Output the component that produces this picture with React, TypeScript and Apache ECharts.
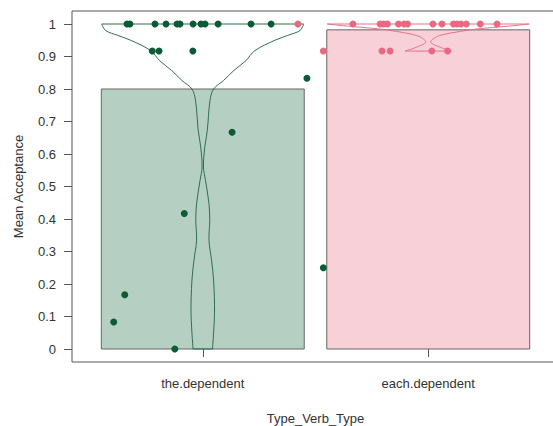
import React, { useEffect, useRef } from "react";
import * as echarts from "echarts";

const categories = ["the.dependent", "each.dependent"];
const categoryPos = [1, 2];
const barMeans = [0.8, 0.982];
const yTicks = [0, 0.1, 0.2, 0.3, 0.4, 0.5, 0.6, 0.7, 0.8, 0.9, 1];

// violin outlines: values (top to bottom) and half widths in x-axis units
const greenViolinValues = [1.0, 0.98, 0.965, 0.95, 0.918, 0.887, 0.857, 0.826, 0.8, 0.764, 0.672, 0.621, 0.56, 0.519, 0.447, 0.396, 0.335, 0.273, 0.212, 0.11, 0.0];
const greenViolinHalfWidths = [0.448, 0.431, 0.377, 0.32, 0.231, 0.191, 0.138, 0.092, 0.048, 0.032, 0.02, 0.009, 0.003, 0.012, 0.0275, 0.031, 0.0275, 0.039, 0.048, 0.052, 0.043];
const pinkViolinValues = [1.0, 0.993, 0.985, 0.977, 0.968, 0.959, 0.944, 0.928, 0.9167];
const pinkViolinHalfWidths = [0.448, 0.35, 0.22, 0.14, 0.07, 0.033, 0.011, 0.055, 0.103];

// jittered points
const greenPointsX = [0.664, 0.677, 0.788, 0.837, 0.886, 0.899, 0.957, 0.992, 1.01, 1.068, 1.214, 1.303, 0.776, 0.806, 0.956, 1.462, 1.13, 0.918, 1.535, 0.654, 0.605, 0.876];
const greenPointsY = [1, 1, 1, 1, 1, 1, 1, 1, 1, 1, 1, 1, 0.9167, 0.9167, 0.9167, 0.8333, 0.6667, 0.4167, 0.25, 0.1667, 0.0833, 0];
const pinkPointsX = [1.422, 1.666, 1.787, 1.802, 1.819, 1.868, 1.893, 1.908, 2.021, 2.061, 2.112, 2.127, 2.145, 2.169, 2.231, 2.305, 1.535, 1.795, 1.831, 2.016, 2.086];
const pinkPointsY = [1, 1, 1, 1, 1, 1, 1, 1, 1, 1, 1, 1, 1, 1, 1, 1, 0.9167, 0.9167, 0.9167, 0.9167, 0.9167];

const barFills = ["#b5cfc2", "#f8d0d8"];
const violinStrokes = ["#2f6e50", "#e27589"];
const pointColors = ["#0b5c36", "#e96a80"];

const violinValues = [greenViolinValues, pinkViolinValues];
const violinHalfWidths = [greenViolinHalfWidths, pinkViolinHalfWidths];

export default function App() {
  const ref = useRef<HTMLDivElement>(null);
  useEffect(() => {
    if (!ref.current) return;
    const chart = echarts.init(ref.current, null, { renderer: "svg" });
    const textColor = "#333";
    const font = "Liberation Sans, Arial, Helvetica, sans-serif";
    chart.setOption({
      animation: false,
      textStyle: { fontFamily: font },
      grid: {
        left: 72,
        top: 11,
        bottom: 64,
        right: -6,
        show: true,
        borderColor: "#555",
        borderWidth: 1,
        backgroundColor: "transparent",
        containLabel: false,
        outerBoundsMode: "none",
      },
      xAxis: {
        type: "value",
        min: 0.42,
        max: 2.58,
        name: "Type_Verb_Type",
        nameLocation: "middle",
        nameGap: 50,
        nameTextStyle: { color: textColor, fontSize: 13, fontFamily: font },
        axisLine: { show: false },
        splitLine: { show: false },
        axisTick: { show: true, length: 8, customValues: categoryPos, lineStyle: { color: "#555" } },
        axisLabel: {
          customValues: categoryPos,
          margin: 15,
          color: textColor,
          fontSize: 13,
          fontFamily: font,
          formatter: (v: number) => categories[Math.round(v) - 1] ?? "",
        },
      },
      yAxis: {
        type: "value",
        min: -0.04,
        max: 1.04,
        name: "Mean Acceptance",
        nameLocation: "middle",
        nameGap: 47,
        nameRotate: 90,
        nameTextStyle: { color: textColor, fontSize: 13, fontFamily: font },
        axisLine: { show: false },
        splitLine: { show: false },
        axisTick: { show: true, length: 8, customValues: yTicks, lineStyle: { color: "#555" } },
        axisLabel: {
          customValues: yTicks,
          margin: 16,
          color: textColor,
          fontSize: 13,
          fontFamily: font,
          formatter: (v: number) => String(Math.round(v * 10) / 10),
        },
      },
      series: [
        {
          type: "custom",
          coordinateSystem: "cartesian2d",
          data: categoryPos.map((c, i) => [c, barMeans[i]]),
          renderItem: (params: any, api: any) => {
            const i = params.dataIndex;
            const c = api.value(0);
            const m = api.value(1);
            const p1 = api.coord([c - 0.45, m]);
            const p2 = api.coord([c + 0.45, 0]);
            return {
              type: "rect",
              shape: { x: p1[0], y: p1[1], width: p2[0] - p1[0], height: p2[1] - p1[1] },
              style: { fill: barFills[i], stroke: "#666", lineWidth: 1 },
            };
          },
          z: 1,
        },
        {
          type: "custom",
          coordinateSystem: "cartesian2d",
          data: categoryPos.map((c) => [c, 0]),
          renderItem: (params: any, api: any) => {
            const i = params.dataIndex;
            const c = categoryPos[i];
            const vals = violinValues[i];
            const hws = violinHalfWidths[i];
            const left = vals.map((v, k) => api.coord([c - hws[k], v]));
            const right = vals.map((v, k) => api.coord([c + hws[k], v]));
            const st = { stroke: violinStrokes[i], fill: "none", lineWidth: 1 };
            const n = vals.length - 1;
            return {
              type: "group",
              children: [
                { type: "polyline", shape: { points: left, smooth: 0.35 }, style: st },
                { type: "polyline", shape: { points: right, smooth: 0.35 }, style: st },
                { type: "line", shape: { x1: left[0][0], y1: left[0][1], x2: right[0][0], y2: right[0][1] }, style: st },
                { type: "line", shape: { x1: left[n][0], y1: left[n][1], x2: right[n][0], y2: right[n][1] }, style: st },
              ],
            };
          },
          z: 2,
        },
        {
          type: "scatter",
          data: greenPointsX.map((x, k) => [x, greenPointsY[k]]),
          symbolSize: 7,
          itemStyle: { color: pointColors[0], opacity: 1 },
          z: 3,
        },
        {
          type: "scatter",
          data: pinkPointsX.map((x, k) => [x, pinkPointsY[k]]),
          symbolSize: 7,
          itemStyle: { color: pointColors[1], opacity: 1 },
          z: 3,
        },
      ],
    });
    return () => chart.dispose();
  }, []);
  return (
    <div
      ref={ref}
      style={{ position: "fixed", left: 0, top: 0, width: 553, height: 426, background: "#fff" }}
    />
  );
}
